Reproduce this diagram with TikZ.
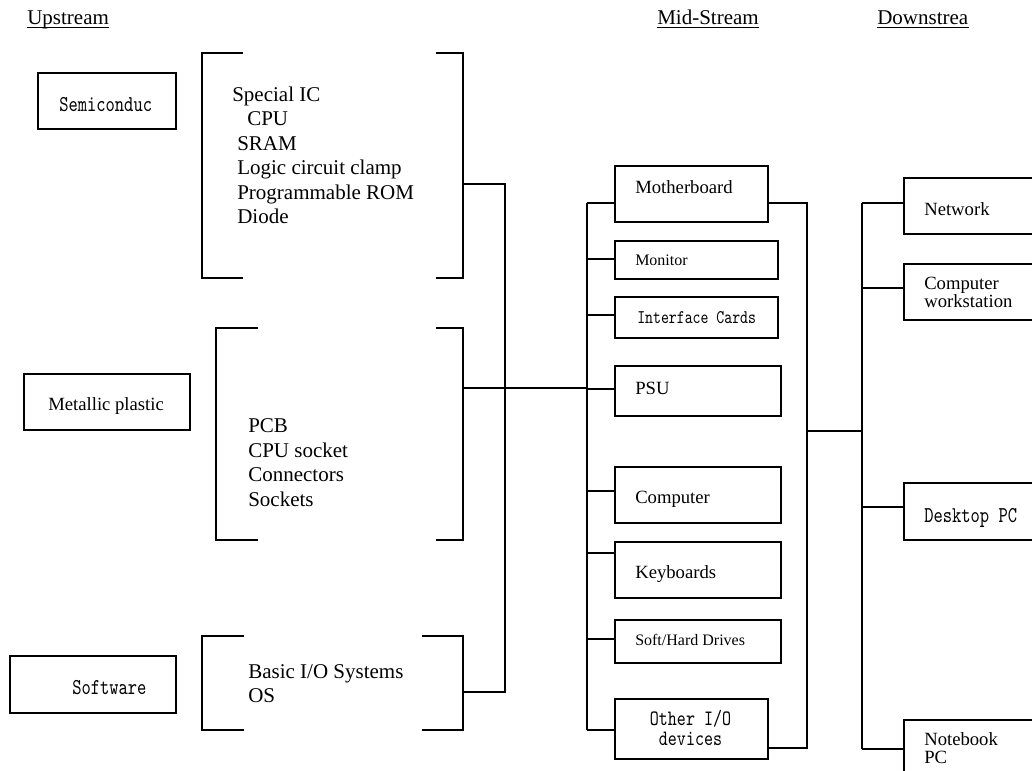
\documentclass[tikz,border=0pt]{standalone}
\usepackage{fontspec}
\setmainfont{Liberation Serif}
\newfontfamily\narrowmono{lmmono10-regular.otf}[FakeStretch=0.78]
\begin{document}
\begin{tikzpicture}[x=0.75pt,y=-0.75pt,
  ln/.style={line width=1.2pt},
  box/.style={draw,line width=1.2pt,inner sep=0pt,anchor=north west},
  t/.style={inner sep=0pt,anchor=base west},
  big/.style={font=\fontsize{15.75pt}{18pt}\selectfont},
  med/.style={font=\fontsize{14pt}{16pt}\selectfont},
  sml/.style={font=\fontsize{12pt}{14pt}\selectfont},
  mono/.style={font=\narrowmono\fontsize{17pt}{18pt}\selectfont},
  monos/.style={font=\narrowmono\fontsize{14.5pt}{16pt}\selectfont},
  uline/.style={line width=0.8pt}]
\useasboundingbox (0,0) rectangle (1032,771);
\fill[white] (0,0) rectangle (1032,771);
\clip (0,0) rectangle (1032,771);

% headers
\node[t,big] (hup) at (27,24) {Upstream};
\node[t,big] (hmid) at (657,24) {Mid-Stream};
\node[t,big] (hdown) at (877,24) {Downstrea};
\foreach \h in {hup,hmid,hdown}
  \draw[uline] ([yshift=-2.4pt]\h.base west) -- ([yshift=-2.4pt]\h.base east);

% upstream boxes
\node[box,minimum width=103.5pt,minimum height=42pt] (semi) at (37,72) {};
\node[t,mono] (semit) at (59,111) {Semiconduc};
\node[box,minimum width=124.5pt,minimum height=42pt] (metal) at (23,373) {};
\node[t,med] (metalt) at (48,410) {Metallic plastic};
\node[box,minimum width=124.5pt,minimum height=42.75pt] (soft) at (9,655) {};
\node[t,mono] (softt) at (72,694) {Software};

% brackets
\draw[ln] (243,53) -- (202,53) -- (202,278) -- (243,278);
\draw[ln] (436,53) -- (463,53) -- (463,278) -- (436,278);
\draw[ln] (258,328) -- (216,328) -- (216,540) -- (258,540);
\draw[ln] (436,328) -- (463,328) -- (463,540) -- (436,540);
\draw[ln] (244,636) -- (202,636) -- (202,730) -- (244,730);
\draw[ln] (422,636) -- (463,636) -- (463,730) -- (422,730);
\coordinate (b1r) at (463,184);
\coordinate (b2r) at (463,388);
\coordinate (b3r) at (463,692);

% bracket texts
\node[t,big] (l1) at (232,101) {Special IC};
\node[t,big] (l2) at (247,125.5) {CPU};
\node[t,big] (l3) at (237,150) {SRAM};
\node[t,big] (l4) at (237,174.5) {Logic circuit clamp};
\node[t,big] (l5) at (237,199) {Programmable ROM};
\node[t,big] (l6) at (237,223.5) {Diode};
\node[t,big] (p1) at (248,432) {PCB};
\node[t,big] (p2) at (248,457) {CPU socket};
\node[t,big] (p3) at (248,481.5) {Connectors};
\node[t,big] (p4) at (248,506) {Sockets};
\node[t,big] (s1) at (248,678) {Basic I/O Systems};
\node[t,big] (s2) at (248,702) {OS};

% mid-stream boxes
\node[box,minimum width=114.75pt,minimum height=42pt] (mb) at (614,165) {};
\node[t,med] (mbt) at (635,193) {Motherboard};
\node[box,minimum width=122.25pt,minimum height=28.5pt] (mon) at (614,240) {};
\node[t,sml] (mont) at (635,265) {Monitor};
\node[box,minimum width=122.25pt,minimum height=30.75pt] (ifc) at (614,296) {};
\node[t,monos] (ifct) at (637,323) {Interface Cards};
\node[box,minimum width=124.5pt,minimum height=37.5pt] (psu) at (614,365) {};
\node[t,med] (psut) at (635,394) {PSU};
\node[box,minimum width=124.5pt,minimum height=42pt] (comp) at (614,466) {};
\node[t,med] (compt) at (635,503) {Computer};
\node[box,minimum width=124.5pt,minimum height=42pt] (kb) at (614,541) {};
\node[t,med] (kbt) at (635,578) {Keyboards};
\node[box,minimum width=124.5pt,minimum height=32.25pt] (shd) at (614,619) {};
\node[t,sml] (shdt) at (635,645) {Soft/Hard Drives};
\node[box,minimum width=114.75pt,minimum height=45pt] (oio) at (614,698) {};
\node[inner sep=0pt,align=center,font=\narrowmono\fontsize{16.5pt}{15pt}\selectfont]
  (oiot) at (690.5,728) {Other I/O\\devices};

% downstream boxes
\node[box,minimum width=102.75pt,minimum height=42pt] (net) at (903,177) {};
\node[t,med] (nett) at (924,215) {Network};
\node[box,minimum width=102.75pt,minimum height=42pt] (cws) at (903,263) {};
\node[t,med] (cws1) at (924,289) {Computer};
\node[t,med] (cws2) at (924,307) {workstation};
\node[box,minimum width=102.75pt,minimum height=42.75pt] (dpc) at (903,482) {};
\node[t,mono] (dpct) at (924,522) {Desktop PC};
\node[box,minimum width=102.75pt,minimum height=46pt] (nb) at (903,719) {};
\node[t,med] (nb1) at (924,745) {Notebook};
\node[t,med] (nb2) at (924,763) {PC};

% upstream connectors
\coordinate (j1) at (505,184);
\coordinate (j3) at (505,692);
\coordinate (lt) at (587,203);
\coordinate (lb) at (587,730);
\draw[ln] (b1r) -- (j1) -- (j3) -- (b3r);
\draw[ln] (b2r) -- (lt |- b2r);

% mid-stream left bus
\draw[ln] (lt) -- (lb);
\draw[ln] (lt) -- (mb.west |- lt);
\draw[ln] (587,259) -- (mon.west |- 0,259);
\draw[ln] (587,315) -- (ifc.west |- 0,315);
\draw[ln] (587,389) -- (psu.west |- 0,389);
\draw[ln] (587,491) -- (comp.west |- 0,491);
\draw[ln] (587,553) -- (kb.west |- 0,553);
\draw[ln] (587,639) -- (shd.west |- 0,639);
\draw[ln] (lb) -- (oio.west |- lb);

% mid-stream right bus
\coordinate (rt) at (807,203);
\coordinate (rb) at (807,748);
\draw[ln] (mb.east |- rt) -- (rt) -- (rb) -- (oio.east |- rb);
\coordinate (rm) at (807,431);
\coordinate (dm) at (862,431);
\draw[ln] (rm) -- (dm);

% downstream bus
\coordinate (dt) at (862,203);
\coordinate (db) at (862,749);
\draw[ln] (dt) -- (db);
\draw[ln] (dt) -- (net.west |- dt);
\draw[ln] (862,288) -- (cws.west |- 0,288);
\draw[ln] (862,507) -- (dpc.west |- 0,507);
\draw[ln] (db) -- (nb.west |- db);
\end{tikzpicture}
\end{document}
